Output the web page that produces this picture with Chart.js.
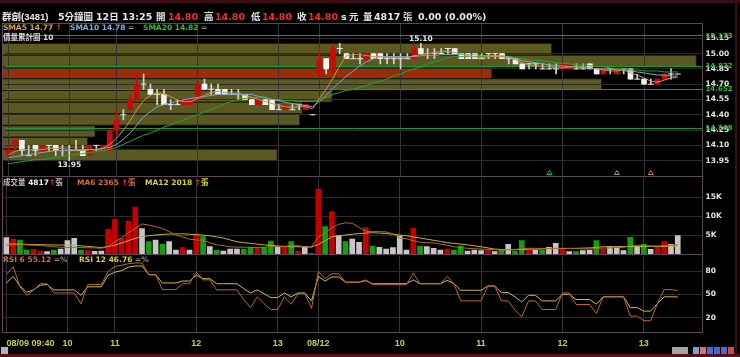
<!DOCTYPE html>
<html><head><meta charset="utf-8">
<script src="https://cdn.jsdelivr.net/npm/chart.js@4.4.0/dist/chart.umd.min.js"></script>
<style>
html,body{margin:0;padding:0;background:#000;}
#wrap{position:relative;width:740px;height:357px;overflow:hidden;background:#000;font-family:"DejaVu Sans","Noto Sans CJK TC",sans-serif;}
canvas{position:absolute;left:0;top:0;}
.t{position:absolute;white-space:nowrap;font-weight:bold;line-height:1;}
.h{font-size:9.5px;color:#e8e8e8;top:11.5px;}
.c{font-size:9.5px;top:11.5px;}
.r{color:#ff2626;}
.s{font-size:7.5px;}
.box{position:absolute;border:1px solid #5e4658;box-sizing:border-box;pointer-events:none;}
.blk{position:absolute;}
</style></head><body><div id="wrap">
<canvas id="cBands" width="740" height="357"></canvas>
<canvas id="cPrice" width="740" height="357"></canvas>
<canvas id="cVol" width="740" height="357"></canvas>
<canvas id="cRsi" width="740" height="357"></canvas>

<div class="blk" style="left:0;top:0;width:740px;height:3px;background:#3e0a14"></div>
<div class="blk" style="left:735px;top:0;width:2px;height:357px;background:#3e0a14"></div>
<div class="blk" style="left:0;top:354px;width:740px;height:3px;background:#56101c"></div>

<span class="t h c" style="left:2px;font-family:'Liberation Sans','Noto Sans CJK TC'">群創(3481)</span>
<span class="t h c" style="left:58px">5分鐘圖</span>
<span class="t h" style="left:96px">12<span style="font-size:9.5px">日</span></span>
<span class="t h" style="left:122px">13:25</span>
<span class="t h c" style="left:156px">開</span>
<span class="t h r" style="left:168px">14.80</span>
<span class="t h c" style="left:204px">高</span>
<span class="t h r" style="left:215px">14.80</span>
<span class="t h c" style="left:251px">低</span>
<span class="t h r" style="left:262px">14.80</span>
<span class="t h c" style="left:297px">收</span>
<span class="t h r" style="left:308px">14.80</span>
<span class="t h" style="left:341px">s</span>
<span class="t h c" style="left:349px">元</span>
<span class="t h c" style="left:363px">量</span>
<span class="t h" style="left:374px">4817</span>
<span class="t h c" style="left:403px;color:#cfcfcf">張</span>
<span class="t h" style="left:418px">0.00 (0.00%)</span>

<span class="t s" style="left:3px;top:24px;color:#e59b3c">SMA5 14.77 <span style="color:#ff3030">↑</span></span>
<span class="t s" style="left:70px;top:24px;color:#6fb2e6">SMA10 14.78 <span style="color:#8a8a8a">=</span></span>
<span class="t s" style="left:143px;top:24px;color:#22c322">SMA20 14.82 <span style="color:#8a8a8a">=</span></span>
<span class="t s" style="left:3px;top:34px;color:#d8d8d8">價量累計圖 10</span>

<span class="t s" style="left:3px;top:179px;color:#bdbdbd">成交量 <span style="color:#f0f0f0">4817</span><span style="color:#ff3030">↑</span>張</span>
<span class="t s" style="left:77px;top:179px;color:#d2702c">MA6 2365 <span style="color:#ff3030">↑</span>張</span>
<span class="t s" style="left:145px;top:179px;color:#d4d230">MA12 2018 <span style="color:#ff3030">↑</span>張</span>

<span class="t s" style="left:3px;top:256px;color:#d2702c">RSI 6 55.12 <span style="color:#8a8a8a">=%</span></span>
<span class="t s" style="left:79px;top:256px;color:#d4d230">RSI 12 46.76 <span style="color:#8a8a8a">=%</span></span>

<div class="box" style="left:2px;top:23px;width:701px;height:154px"></div>
<div class="box" style="left:2px;top:176px;width:701px;height:79px"></div>
<div class="box" style="left:2px;top:254px;width:701px;height:79px"></div>

<div class="blk" style="left:1px;top:347px;width:7px;height:7px;background:#b4b4b4"></div>
<div class="blk" style="left:672px;top:347px;width:16px;height:7px;background:#a4a4a4"></div>
<div class="blk" style="left:693px;top:347px;width:6px;height:7px;background:#7aa6c6"></div>
<div class="blk" style="left:700px;top:347px;width:6px;height:7px;background:#e07070"></div>
<div class="blk" style="left:707px;top:347px;width:6px;height:7px;background:#4a66d6"></div>
<div class="blk" style="left:714px;top:347px;width:6px;height:7px;background:#4a66d6"></div>
<div class="blk" style="left:721px;top:347px;width:6px;height:7px;background:#4a66d6"></div>
<div class="blk" style="left:728px;top:347px;width:6px;height:7px;background:#d04a3a"></div>
</div>
<script>
const slotCount = 103;
const tickText = {0:'08/09 09:40',9:'10',16:'11',28:'12',40:'13',46:'08/12',58:'10',70:'11',82:'12',94:'13'};

const open = [14.00,14.10,14.15,14.00,14.10,14.05,14.10,14.10,14.05,14.05,
14.05,14.05,14.00,14.10,14.05,14.05,14.25,14.40,14.45,14.55,
14.70,14.65,14.60,14.60,14.50,14.50,14.50,14.50,14.55,14.70,
14.65,14.65,14.65,14.60,14.60,14.60,14.55,14.50,14.55,14.55,
14.45,14.45,14.45,14.50,14.45,14.40,14.80,14.95,14.85,15.05,
15.00,14.95,14.95,14.95,15.00,15.00,14.95,14.95,14.95,14.95,
14.95,15.05,15.00,15.00,15.00,15.05,15.05,15.00,15.00,15.00,
14.95,15.00,15.00,15.00,14.95,14.95,14.90,14.90,14.90,14.85,
14.85,14.85,14.85,14.85,14.85,14.85,14.90,14.85,14.80,14.85,
14.80,14.85,14.85,14.75,14.75,14.70,14.70,14.75,14.80,14.80];
const high = [14.10,14.15,14.15,14.10,14.10,14.10,14.10,14.10,14.10,14.10,
14.15,14.10,14.10,14.10,14.10,14.25,14.45,14.45,14.60,14.80,
14.80,14.70,14.65,14.65,14.55,14.55,14.55,14.55,14.75,14.75,
14.70,14.70,14.65,14.65,14.65,14.60,14.55,14.55,14.55,14.55,
14.50,14.50,14.50,14.50,14.50,14.40,15.05,14.95,15.10,15.10,
15.00,15.00,15.00,15.00,15.00,15.00,15.00,15.00,15.00,15.00,
15.10,15.10,15.05,15.05,15.05,15.05,15.05,15.00,15.00,15.00,
15.00,15.00,15.00,15.00,14.95,14.95,14.90,14.90,14.90,14.90,
14.90,14.90,14.90,14.90,14.90,14.90,14.90,14.85,14.85,14.85,
14.85,14.85,14.85,14.80,14.75,14.75,14.75,14.80,14.85,14.80];
const low = [14.00,14.05,14.00,14.00,14.00,14.05,14.05,14.00,14.00,13.95,
14.05,14.00,14.00,14.05,14.05,14.05,14.20,14.35,14.45,14.55,
14.65,14.60,14.50,14.50,14.45,14.50,14.50,14.50,14.55,14.65,
14.60,14.60,14.60,14.60,14.55,14.55,14.50,14.50,14.50,14.45,
14.45,14.45,14.45,14.45,14.45,14.40,14.80,14.80,14.80,15.00,
14.95,14.95,14.90,14.90,14.95,14.90,14.90,14.90,14.85,14.95,
14.95,15.00,14.95,14.95,15.00,15.00,15.00,14.95,14.95,14.95,
14.95,14.95,14.95,14.95,14.90,14.90,14.85,14.85,14.85,14.85,
14.85,14.80,14.85,14.85,14.85,14.85,14.85,14.80,14.80,14.80,
14.80,14.80,14.75,14.75,14.70,14.70,14.70,14.75,14.75,14.80];
const close = [14.05,14.15,14.05,14.00,14.05,14.10,14.10,14.05,14.05,14.05,
14.05,14.00,14.10,14.10,14.10,14.25,14.35,14.40,14.55,14.70,
14.70,14.60,14.60,14.50,14.50,14.50,14.55,14.55,14.70,14.65,
14.65,14.60,14.60,14.60,14.60,14.55,14.50,14.55,14.50,14.45,
14.45,14.50,14.45,14.50,14.50,14.40,14.95,14.85,15.05,15.05,
14.95,14.95,14.95,15.00,14.95,14.95,14.95,14.95,14.95,14.95,
15.05,15.00,15.00,15.00,15.00,15.05,15.00,14.95,14.95,14.95,
14.95,15.00,15.00,14.95,14.95,14.90,14.85,14.90,14.90,14.85,
14.85,14.85,14.90,14.90,14.85,14.85,14.85,14.80,14.85,14.85,
14.85,14.85,14.75,14.75,14.70,14.70,14.75,14.80,14.80,14.80];

const sma5 = [14.01,14.04,14.06,14.06,14.06,14.06,14.07,14.07,14.07,14.06,
14.05,14.05,14.06,14.06,14.07,14.11,14.17,14.25,14.34,14.45,
14.54,14.59,14.62,14.60,14.58,14.54,14.53,14.53,14.56,14.59,
14.62,14.63,14.62,14.61,14.61,14.59,14.57,14.55,14.53,14.51,
14.49,14.48,14.47,14.48,14.48,14.46,14.56,14.65,14.76,14.88,
14.98,14.99,14.99,14.98,14.97,14.97,14.96,14.96,14.96,14.96,
14.98,14.99,15.00,15.01,15.02,15.02,15.01,15.00,14.98,14.97,
14.96,14.97,14.97,14.97,14.96,14.94,14.91,14.89,14.88,14.87,
14.87,14.86,14.86,14.87,14.87,14.87,14.86,14.85,14.84,14.83,
14.83,14.84,14.81,14.79,14.76,14.73,14.72,14.74,14.76,14.77];
const sma10 = [13.98,13.99,14.00,14.01,14.02,14.03,14.04,14.05,14.05,14.05,
14.06,14.06,14.06,14.06,14.07,14.08,14.11,14.16,14.22,14.30,
14.38,14.43,14.48,14.50,14.52,14.53,14.55,14.56,14.57,14.58,
14.59,14.60,14.60,14.60,14.60,14.60,14.60,14.58,14.57,14.55,
14.54,14.52,14.51,14.50,14.49,14.48,14.53,14.59,14.66,14.72,
14.78,14.83,14.88,14.92,14.95,14.97,14.97,14.97,14.97,14.97,
14.97,14.98,14.98,14.98,14.99,14.99,14.99,14.99,14.99,14.99,
14.98,14.98,14.98,14.98,14.97,14.95,14.93,14.92,14.91,14.90,
14.89,14.88,14.88,14.87,14.87,14.86,14.86,14.85,14.85,14.85,
14.84,14.84,14.83,14.82,14.81,14.80,14.79,14.79,14.78,14.78];
const sma20 = [13.92,13.93,13.94,13.95,13.96,13.96,13.97,13.98,13.99,14.00,
14.01,14.02,14.03,14.04,14.05,14.06,14.08,14.11,14.14,14.17,
14.20,14.22,14.25,14.28,14.30,14.33,14.35,14.38,14.40,14.43,
14.45,14.48,14.51,14.53,14.55,14.56,14.57,14.57,14.56,14.55,
14.55,14.54,14.54,14.53,14.53,14.53,14.55,14.57,14.60,14.62,
14.64,14.65,14.67,14.69,14.71,14.73,14.75,14.78,14.80,14.83,
14.85,14.87,14.90,14.92,14.94,14.96,14.97,14.97,14.97,14.97,
14.97,14.97,14.97,14.97,14.97,14.96,14.95,14.94,14.935,14.93,
14.92,14.91,14.905,14.90,14.89,14.89,14.88,14.875,14.87,14.86,
14.855,14.85,14.84,14.84,14.83,14.83,14.83,14.82,14.82,14.82];

const volume = [4290,3950,3680,1050,1230,790,610,1050,1320,3510,
4120,1050,880,700,790,6490,9200,4120,8680,12360,
6660,3240,3680,2630,3240,1050,1660,1050,5260,4560,
1930,1050,790,1320,1320,1320,1750,1660,1750,3420,
1750,1930,3240,790,1930,120,17100,7190,11140,4820,
3240,3950,3070,6930,2100,1750,1320,1660,4730,1050,
6750,2100,1930,1490,1050,1320,1050,2100,790,1050,
880,1050,610,1050,2540,790,3510,1050,1050,1050,
1750,2800,1320,610,610,880,1050,3510,1230,1930,
1750,880,4380,1930,2630,1230,1750,3240,2540,4817];
const volMA6 = [2370,2400,2450,2400,2300,2250,2100,1900,1800,1700,
1750,1700,1650,1600,1500,1950,3200,4300,5600,6700,
7900,7600,7200,6700,5900,5000,4500,3900,3700,3600,
3000,2400,2200,1900,1800,1800,1750,1750,1750,2000,
1950,1950,2300,2200,1900,1800,4500,5400,7000,7800,
8200,8100,7000,6000,5900,5900,5800,5300,4200,4000,
3500,3100,3000,2900,2600,2300,1900,1700,1500,1400,
1300,1200,1100,1050,1100,1200,1400,1500,1500,1450,
1400,1500,1500,1450,1400,1350,1300,1500,1550,1600,
1700,1700,2300,2300,2200,2150,2100,2200,2300,2365];
const volMA12 = [2630,2620,2600,2550,2500,2450,2400,2380,2370,2340,
2300,2150,2000,1850,1700,1950,2300,2900,3500,4100,
4600,4800,5000,5150,5260,5280,5300,5200,5100,4950,
4800,4500,4200,3700,3200,3000,2800,2600,2400,2250,
2100,2000,1900,1900,1900,1850,2500,3500,4500,4800,
5000,5200,5400,5500,5600,5500,5400,5200,5000,4800,
4500,4200,3900,3600,3300,3000,2800,2600,2400,2150,
1900,1600,1300,1200,1100,1150,1200,1250,1300,1350,
1400,1420,1450,1480,1500,1550,1600,1750,1900,1920,
1950,1950,1950,1950,1950,1980,2000,2020,2050,2018];

const rsi6 = [76,86,60,49,55.5,64,64,52,52,52,
52,38,63,63,63,80,86.5,88,90,91,
91,75.7,75.7,56.4,56.4,56.4,64,64,79,69,
69,56,56,56,56,43.5,33,47,38,30.5,
30.5,47,37.4,51,51,32,80,70.5,77,77,
66,66,66,69,62.8,62.8,62.8,62.8,62.8,62.8,
77.8,64,64,64,64,73.5,64,41.7,41.7,41.7,
41.7,61,61,41.7,41.7,29.7,21,41.7,41.7,30.5,
30.5,30.5,52,52,37,37,37,25.4,47,47,
47,47,22,22,16,16,38.3,56.4,56.4,55.12];
const rsi12 = [65,73.5,61,53,56,62,63,56,56,56,
56,49,60,60,60,75,79,81,85.5,87,
87,75.7,75.7,65,65,65,67.5,67.5,75,70.5,
70.5,64,64,64,64,57.6,52,56,51,46,
46,52,47,52,52,41.7,73.5,67.5,72.7,72.7,
66,66,66,68,64,64,64,64,64,64,
69,64,64,64,64,68.4,64,55.5,55.5,55.5,
55.5,61,61,52.5,52.5,47,40.4,49,49,41.7,
41.7,41.7,50.3,50.3,43.5,43.5,43.5,37.4,47,47,
47,47,33,33,28.4,28.4,38.3,47,47,46.76];

const priceTicks = [13.95,14.10,14.25,14.40,14.55,14.70,14.85,15.00,15.15];
const refLevels = [15.173,14.872,14.652,14.268];
const bandPrice = [14.0075,14.1225,14.2375,14.3525,14.4675,14.5825,14.6975,14.8125,14.9275,15.0425];
const bandVolume = [11000,3400,3700,11900,12000,13200,24000,19600,27800,22000];
const volTicks = [5000,10000,15000];
const rsiTicks = [20,50,80];
const markerIdx = [80,90,95];

Chart.defaults.animation = false;
Chart.defaults.font.family = '"DejaVu Sans"';
const labels = Array.from({length: slotCount}, (_, i) => String(i));
const common = {responsive:false, devicePixelRatio:1, animation:false, events:[],
  plugins:{legend:{display:false}, tooltip:{enabled:false}}};

function xHidden(){
  return {type:'category', offset:true, display:true,
    grid:{offset:false, drawTicks:false, color: c => (c.index in tickText) ? '#343434' : 'rgba(0,0,0,0)'},
    border:{display:false}, ticks:{display:false, autoSkip:false},
    afterFit: s => { s.height = 0; }};
}
function yRight(min, max, vals, fmt, opts){
  opts = opts || {};
  return {type:'linear', position:'right', min, max,
    afterBuildTicks: s => { s.ticks = vals.map(v => ({value:v})); },
    afterFit: s => { s.width = 37; },
    grid:{drawTicks:false, color: opts.grid || '#2c2c2c'},
    border:{display:false},
    ticks:{autoSkip:false, padding:4, callback: fmt, color: opts.color || '#e6e6e6',
      font: opts.font || {family:'"DejaVu Sans"', weight:'bold', size:7.5}}};
}

// volume profile bands
const priceMin = 13.80, priceMax = 15.30, priceTop = 23, priceBottom = 176;
const lastClose = close[close.length-1];
const halfBand = (bandPrice[1]-bandPrice[0])/2;
const bandPx = (bandPrice[1]-bandPrice[0]) * (priceBottom-priceTop) / (priceMax-priceMin);
new Chart(document.getElementById('cBands'), {
  type:'bar',
  data:{datasets:[{
    data: bandPrice.map((p,i)=>({x:bandVolume[i], y:p})),
    backgroundColor: bandPrice.map(p => (lastClose >= p-halfBand && lastClose < p+halfBand) ? '#9a2d08' : '#5b5921'),
    borderColor:'#1c1c08', borderWidth:1, barThickness: bandPx
  }]},
  options:Object.assign({}, common, {indexAxis:'y',
    layout:{padding:{left:3, right:38.5, top:priceTop, bottom:357-priceBottom}},
    scales:{
      x:{type:'linear', min:0, max:28000, display:false, offset:false},
      y:{type:'linear', min:priceMin, max:priceMax, display:false, offset:false,
        afterBuildTicks: s => { s.ticks = [{value:priceMin},{value:priceMax}]; }}
    }})
});

const RED='#c80a0a', WHITE='#f2f2f2', WICKW='#d4d4d4';
const annot = {
  id:'annot',
  afterDatasetsDraw(chart){
    const {ctx, chartArea, scales:{x, y}} = chart;
    let hi = 0, lo = 0;
    for (let i = 0; i < high.length; i++){ if (high[i] >= high[hi]) hi = i; if (low[i] < low[lo]) lo = i; }
    ctx.save();
    ctx.font = 'bold 7.5px "DejaVu Sans"'; ctx.fillStyle = '#e4e4e4'; ctx.textAlign = 'center';
    ctx.textBaseline = 'bottom';
    ctx.fillText(high[hi].toFixed(2), x.getPixelForValue(hi), y.getPixelForValue(high[hi]) - 1);
    ctx.textBaseline = 'top';
    ctx.fillText(low[lo].toFixed(2), x.getPixelForValue(lo), y.getPixelForValue(low[lo]) + 1);
    const mc = ['#22b822','#9a9a9a','#c8802a'];
    markerIdx.forEach((m, k) => {
      const px = x.getPixelForValue(m), py = chartArea.bottom - 1.5;
      ctx.strokeStyle = mc[k]; ctx.lineWidth = 1;
      ctx.beginPath(); ctx.moveTo(px-2.5, py); ctx.lineTo(px, py-4); ctx.lineTo(px+2.5, py); ctx.closePath(); ctx.stroke();
    });
    ctx.restore();
  }
};

new Chart(document.getElementById('cPrice'), {
  type:'bar',
  data:{labels, datasets:[
    {type:'line', data:sma5, borderColor:'#d4944e', borderWidth:1, pointRadius:0, order:1},
    {type:'line', data:sma10, borderColor:'#7ea6cf', borderWidth:1, pointRadius:0, order:1},
    {type:'line', data:sma20, borderColor:'#22a82a', borderWidth:1, pointRadius:0, order:1},
    {type:'line', data: close.map((c,i)=> c === open[i] ? c : null), showLine:false,
      pointStyle:'line', pointRadius:3, pointBorderColor:'#e6e6e6', pointBorderWidth:1, order:2},
    {type:'bar', data: open.map((o,i)=> o !== close[i] ? [Math.min(o,close[i]), Math.max(o,close[i])] : null),
      backgroundColor: open.map((o,i)=> close[i] > o ? RED : WHITE), barThickness:5, grouped:false, order:3},
    {type:'bar', data: low.map((l,i)=> [l, high[i]]),
      backgroundColor: open.map((o,i)=> close[i] > o ? RED : WICKW), barThickness:1, grouped:false, order:4}
  ]},
  options:Object.assign({}, common, {
    layout:{padding:{left:3, right:1.5, top:priceTop, bottom:357-priceBottom}},
    scales:{
      x: xHidden(),
      y: yRight(priceMin, priceMax, priceTicks.concat(refLevels),
        v => refLevels.includes(v) ? v.toFixed(3) : v.toFixed(2), {
          grid: c => (c.tick && refLevels.includes(c.tick.value)) ? '#1f9a2a' : '#2c2c2c',
          color: c => (c.tick && refLevels.includes(c.tick.value)) ? '#22c022' : '#e6e6e6',
          font: c => ({family:'"DejaVu Sans"', weight:'bold', size: (c.tick && refLevels.includes(c.tick.value)) ? 7 : 7.5})
        })
    }}),
  plugins:[annot]
});

const VR='#c40000', VG='#12a012', VW='#c6c6c6';
const volColor = volume.map((v,i)=> i === 0 ? VW : close[i] > close[i-1] ? VR : close[i] < close[i-1] ? VG : VW);
new Chart(document.getElementById('cVol'), {
  type:'bar',
  data:{labels, datasets:[
    {type:'line', data:volMA6, borderColor:'#b8642a', borderWidth:1, pointRadius:0, order:1},
    {type:'line', data:volMA12, borderColor:'#c2b232', borderWidth:1, pointRadius:0, order:1},
    {type:'bar', data:volume, backgroundColor:volColor, barThickness:5, grouped:false, order:3}
  ]},
  options:Object.assign({}, common, {
    layout:{padding:{left:3, right:1.5, top:178, bottom:103}},
    scales:{ x: xHidden(), y: yRight(0, 20000, volTicks, v => (v/1000) + 'K') }})
});

new Chart(document.getElementById('cRsi'), {
  type:'line',
  data:{labels, datasets:[
    {data:rsi6, borderColor:'#c2622c', borderWidth:1, pointRadius:0},
    {data:rsi12, borderColor:'#c8c23a', borderWidth:1, pointRadius:0}
  ]},
  options:Object.assign({}, common, {
    layout:{padding:{left:3, right:1.5, top:256, bottom:0}},
    scales:{
      x:{type:'category', offset:true,
        grid:{offset:false, drawTicks:false, color: c => (c.index in tickText) ? '#343434' : 'rgba(0,0,0,0)'},
        border:{display:false},
        ticks:{autoSkip:false, maxRotation:0, minRotation:0, align:'inner', padding:5, color:'#cccc44',
          font:{family:'"Liberation Sans"', weight:'bold', size:9}, callback:(v,i)=> tickText[i] || ''},
        afterFit: s => { s.height = 24; }},
      y: yRight(0, 100, rsiTicks, v => String(v))
    }})
});
</script>
</body></html>
